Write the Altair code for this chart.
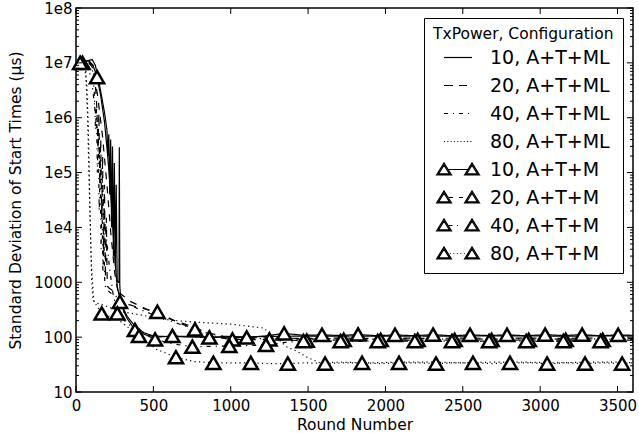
import altair as alt
import pandas as pd

# ---------------- data ----------------
labels = ["10, A+T+ML", "20, A+T+ML", "40, A+T+ML", "80, A+T+ML",
          "10, A+T+M", "20, A+T+M", "40, A+T+M", "80, A+T+M"]
styles = ["solid", "dashed", "dashdot", "dotted", "solid", "dashed", "dashdot", "dotted"]

# 10, A+T+ML (solid)
ml10_x = [0, 40, 80, 105, 125, 145, 165, 185, 200, 206, 212, 218, 224, 230, 236, 242, 248, 254, 260, 266,
          272, 278, 280, 283, 290, 330, 380, 440, 500, 600, 800, 1000, 1200, 1400, 1600, 1800, 2000, 2200,
          2400, 2600, 2800, 3000, 3200, 3400, 3600]
ml10_y = [8e6, 1.05e7, 1.1e7, 1.15e7, 9e6, 5e6, 2.5e6, 1.2e6, 6e5, 2e5, 5e5, 4e4, 4e5, 1e4, 3e5, 3e3, 1.5e5,
          2e3, 6e4, 1.1e3, 1e3, 1e3, 2.9e5, 900, 420, 240, 160, 120, 105, 102, 101, 101, 102, 104, 104, 105,
          104, 105, 104, 105, 106, 105, 104, 106, 105]

# 20, A+T+ML (dashed)
ml20_x = [0, 40, 80, 110, 125, 135, 142, 148, 154, 160, 166, 172, 178, 184, 190, 196, 202, 215, 240, 284,
          350, 450, 530, 627, 700, 769, 850, 950, 1100, 1300, 1500, 1700, 1900, 2100, 2300, 2500, 2700, 2900,
          3100, 3300, 3500, 3600]
ml20_y = [9e6, 1.05e7, 1.1e7, 9e6, 4e6, 1.5e6, 3e5, 1.2e6, 6e4, 4e5, 1.5e4, 2e5, 3e3, 6e4, 1.2e3, 1.5e4, 850,
          780, 700, 630, 450, 330, 260, 205, 175, 150, 120, 105, 98, 96, 95, 96, 95, 96, 95, 96, 95, 96, 95,
          96, 95, 95]

# 40, A+T+ML (dash-dot)
ml40_x = [0, 40, 80, 105, 118, 126, 132, 138, 144, 150, 156, 162, 168, 174, 180, 186, 195, 220, 260, 320,
          400, 480, 560, 650, 750, 850, 950, 1100, 1300, 1500, 1700, 1900, 2100, 2300, 2500, 2700, 2900, 3100,
          3300, 3500, 3600]
ml40_y = [8e6, 1e7, 1.05e7, 8e6, 3e6, 6e5, 1.5e6, 1e5, 5e5, 2e4, 1.5e5, 4e3, 3e4, 1.5e3, 8e3, 900, 750, 650,
          550, 420, 330, 270, 225, 180, 145, 118, 102, 95, 93, 92, 93, 92, 93, 92, 93, 92, 93, 92, 93, 92, 92]

# 80, A+T+ML (dotted)
ml80_x = [0, 30, 55, 70, 80, 88, 95, 102, 110, 130, 180, 240, 300, 400, 500, 608, 780, 1000, 1209, 1300,
          1364, 1430, 1500, 1577, 1700, 1900, 2100, 2300, 2500, 2700, 2900, 3100, 3300, 3500, 3600]
ml80_y = [7e6, 9e6, 9e6, 4e6, 6e5, 5e4, 5e3, 1e3, 470, 420, 380, 330, 290, 260, 230, 204, 187, 173, 147, 95,
          66, 55, 42, 34, 35, 34, 35, 35, 34, 35, 35, 34, 35, 35, 34]

# 10, A+T+M (solid, triangles)
m10_x = [0, 40, 80, 110, 136, 160, 185, 205, 225, 240, 255, 265, 290, 330, 381, 450, 520, 623, 740, 862, 980,
         1103, 1220, 1345, 1470, 1590, 1710, 1823, 1945, 2062, 2185, 2308, 2430, 2547, 2665, 2786, 2910, 3032,
         3150, 3271, 3390, 3504, 3600]
m10_y = [8e6, 1.05e7, 1.1e7, 9e6, 5.5e6, 2.5e6, 8e5, 2e5, 4e4, 8e3, 2e3, 900, 400, 220, 135, 110, 100, 105,
         102, 99, 100, 99, 105, 117, 108, 110, 107, 112, 106, 110, 106, 111, 106, 110, 107, 110, 106, 111, 107,
         111, 106, 110, 108]
m10_marks = [136, 381, 623, 862, 1103, 1345, 1590, 1823, 2062, 2308, 2547, 2786, 3032, 3271, 3504]

# 20, A+T+M (dashed, triangles)
m20_x = [0, 42, 80, 110, 140, 170, 200, 225, 250, 270, 284, 400, 526, 650, 769, 890, 1011, 1130, 1250, 1370,
         1491, 1610, 1730, 1850, 1969, 2090, 2208, 2330, 2447, 2570, 2686, 2810, 2926, 3045, 3165, 3285, 3404,
         3600]
m20_y = [9e6, 1e7, 1.05e7, 8e6, 2.5e6, 5e5, 6e4, 8e3, 1.5e3, 700, 441, 350, 289, 190, 138, 100, 91, 90, 91,
         88, 86, 88, 89, 88, 89, 88, 89, 88, 89, 88, 89, 88, 89, 88, 89, 88, 89, 88]
m20_marks = [42, 284, 526, 769, 1011, 1250, 1491, 1730, 1969, 2208, 2447, 2686, 2926, 3165, 3404]

# 40, A+T+M (dash-dot, triangles)
m40_x = [0, 27, 70, 100, 130, 160, 190, 215, 240, 267, 330, 400, 511, 630, 752, 870, 991, 1110, 1228, 1350,
         1470, 1590, 1710, 1830, 1950, 2070, 2190, 2310, 2430, 2550, 2670, 2790, 2910, 3030, 3150, 3270, 3390,
         3600]
m40_y = [8e6, 1e7, 1e7, 5e6, 1e6, 1e5, 1e4, 2e3, 600, 271, 180, 130, 91, 75, 67, 68, 69, 70, 72, 80, 85, 84,
         85, 84, 85, 84, 85, 84, 85, 84, 85, 84, 85, 84, 85, 84, 85, 84]
m40_marks = [27, 267, 511, 752, 991, 1228, 1470, 1710, 1950, 2190, 2430, 2670, 2910, 3150, 3390]

# 80, A+T+M (dotted, triangles)
m80_x = [0, 40, 62, 75, 88, 100, 115, 166, 280, 407, 520, 646, 760, 888, 1010, 1130, 1250, 1369, 1490, 1610,
         1730, 1849, 1970, 2088, 2210, 2327, 2450, 2566, 2690, 2805, 2925, 3045, 3170, 3290, 3410, 3530, 3600]
m80_y = [8e6, 1e7, 9e6, 1e6, 3e4, 2e3, 450, 271, 200, 105, 60, 43, 36, 34, 34, 34, 33, 33, 34, 33, 34, 34,
         33, 34, 34, 33, 34, 34, 33, 34, 34, 33, 34, 33, 34, 33, 34]
m80_marks = [166, 407, 646, 888, 1130, 1369, 1610, 1849, 2088, 2327, 2566, 2805, 3045, 3290, 3530]

x_ticks = [0, 500, 1000, 1500, 2000, 2500, 3000, 3500]
y_ticks = [10, 100, 1000, 1e4, 1e5, 1e6, 1e7, 1e8]
y_minor = [m * 10 ** e for e in range(1, 8) for m in range(2, 10)]

# ---------------- style ----------------
FONT = "DejaVu Sans"
W, H = 557, 384
style_names = ["solid", "dashed", "dashdot", "dotted"]
style_dashes = [[1, 0], [7, 7], [4, 5, 1.2, 5], [1.2, 3.3]]

# legend glyphs (unit = 10 px); triangles drawn twice (nested) so their outline looks bold
tri_l = ("M-2.15,0.55L-1.4,-0.65L-0.65,0.55Z"
         "M-1.93,0.43L-1.4,-0.42L-0.87,0.43Z")
tri_r = ("M0.65,0.55L1.4,-0.65L2.15,0.55Z"
         "M0.87,0.43L1.4,-0.42L1.93,0.43Z")
legend_paths = [
    "M-1.4,0H1.4",
    "M-1.4,0H-0.5M0.1,0H0.9",
    "M-1.4,0H-1.0M-0.5,0H-0.4M0.1,0H0.5M1.0,0H1.1",
    "M-1.4,0H-1.3M-1.07,0H-0.97M-0.74,0H-0.64M-0.41,0H-0.31M-0.08,0H0.02M0.25,0H0.35M0.58,0H0.68M0.91,0H1.01M1.24,0H1.34",
    tri_l + tri_r + "M-0.95,0H0.95",
    tri_l + tri_r + "M-0.9,0H-0.5M0.1,0H0.5",
    tri_l + tri_r + "M-0.9,0H-0.55M-0.1,0H0",
    tri_l + tri_r + "M-0.8,0H-0.72M-0.45,0H-0.37M-0.1,0H-0.02M0.25,0H0.33M0.6,0H0.68",
]

# ---------------- tables ----------------
series_xy = [(ml10_x, ml10_y), (ml20_x, ml20_y), (ml40_x, ml40_y), (ml80_x, ml80_y),
             (m10_x, m10_y), (m20_x, m20_y), (m40_x, m40_y), (m80_x, m80_y)]
rows = []
for lab, sty, (xs, ys) in zip(labels, styles, series_xy):
    assert len(xs) == len(ys), lab
    for i, (a, b) in enumerate(zip(xs, ys)):
        rows.append({"series": lab, "style": sty, "x": a, "y": b, "i": i})
lines_df = pd.DataFrame(rows)

mark_rows = []
for lab, (xs, ys), mk in zip(labels[4:], series_xy[4:], [m10_marks, m20_marks, m40_marks, m80_marks]):
    for a, b in zip(xs, ys):
        if a in mk:
            mark_rows.append({"series": lab, "x": a, "y": b})
marks_df = pd.DataFrame(mark_rows)

xscale = alt.Scale(domain=[0, 3600], nice=False, zero=False)
yscale = alt.Scale(type="log", domain=[10, 1e8], nice=False)

x_enc = alt.X("x:Q", scale=xscale,
              axis=alt.Axis(values=x_ticks, title="Round Number", ticks=False, domain=False, grid=False,
                            labelPadding=6, titlePadding=4, format="d", labelFlush=False))
y_enc = alt.Y("y:Q", scale=yscale,
              axis=alt.Axis(values=y_ticks, title="Standard Deviation of Start Times (μs)", ticks=False,
                            domain=False, grid=False, labelPadding=4, titlePadding=10, labelFlush=False,
                            labelExpr="datum.value >= 10000 ? '1e' + round(log(datum.value)/LN10) : format(datum.value, 'd')"))

lines = alt.Chart(lines_df).mark_line(color="black", strokeWidth=1.2).encode(
    x=x_enc, y=y_enc,
    detail="series:N",
    order="i:Q",
    strokeDash=alt.StrokeDash("style:N", scale=alt.Scale(domain=style_names, range=style_dashes), legend=None),
)

markers = alt.Chart(marks_df).mark_point(shape="triangle-up", size=200, filled=True, fill="white",
                                         stroke="black", strokeWidth=2.5, opacity=1).encode(
    x=alt.X("x:Q", scale=xscale), y=alt.Y("y:Q", scale=yscale))

# legend-only layer (draws no marks itself)
legend_df = pd.DataFrame({"series": labels})
leg = alt.Legend(title="TxPower, Configuration", orient="top-right", offset=10, padding=9,
                 strokeColor="black", fillColor="white", symbolSize=400, symbolFillColor="white",
                 symbolStrokeColor="black", symbolStrokeWidth=1.2, symbolOpacity=1,
                 symbolOffset=14, labelOffset=21, rowPadding=7, titlePadding=4, titleLimit=400,
                 titleFont=FONT, titleFontSize=15.5, titleFontWeight="normal", titleColor="black",
                 labelFont=FONT, labelFontSize=19, labelColor="black", cornerRadius=0)
legend_layer = alt.Chart(legend_df).transform_filter("false").mark_point(
    filled=False, color="black").encode(
    shape=alt.Shape("series:N", scale=alt.Scale(domain=labels, range=legend_paths), legend=leg),
)

# inward tick marks on all four sides
xt_df = pd.DataFrame({"x": x_ticks})
yt_df = pd.DataFrame({"y": y_ticks})
ym_df = pd.DataFrame({"y": y_minor})
tick_style = dict(color="black", strokeWidth=1)
xt_bottom = alt.Chart(xt_df).mark_rule(**tick_style).encode(
    x=alt.X("x:Q", scale=xscale), y=alt.value(H), y2=alt.value(H - 6))
xt_top = alt.Chart(xt_df).mark_rule(**tick_style).encode(
    x=alt.X("x:Q", scale=xscale), y=alt.value(0), y2=alt.value(6))
yt_left = alt.Chart(yt_df).mark_rule(**tick_style).encode(
    y=alt.Y("y:Q", scale=yscale), x=alt.value(0), x2=alt.value(6))
yt_right = alt.Chart(yt_df).mark_rule(**tick_style).encode(
    y=alt.Y("y:Q", scale=yscale), x=alt.value(W), x2=alt.value(W - 6))
ym_left = alt.Chart(ym_df).mark_rule(**tick_style).encode(
    y=alt.Y("y:Q", scale=yscale), x=alt.value(0), x2=alt.value(3))
ym_right = alt.Chart(ym_df).mark_rule(**tick_style).encode(
    y=alt.Y("y:Q", scale=yscale), x=alt.value(W), x2=alt.value(W - 3))

chart = alt.layer(
    lines, markers, legend_layer, xt_bottom, xt_top, yt_left, yt_right, ym_left, ym_right
).properties(
    width=W, height=H,
    autosize=alt.AutoSizeParams(type="none"),
    padding={"left": 76, "top": 8, "right": 6, "bottom": 41},
    background="white",
).configure_view(
    stroke="black", strokeWidth=1.5
).configure_axis(
    labelFont=FONT, labelFontSize=15, labelColor="black",
    titleFont=FONT, titleFontSize=15.5, titleFontWeight="normal", titleColor="black",
)

chart.save("out.html", embed_options={"renderer": "svg", "actions": False})
